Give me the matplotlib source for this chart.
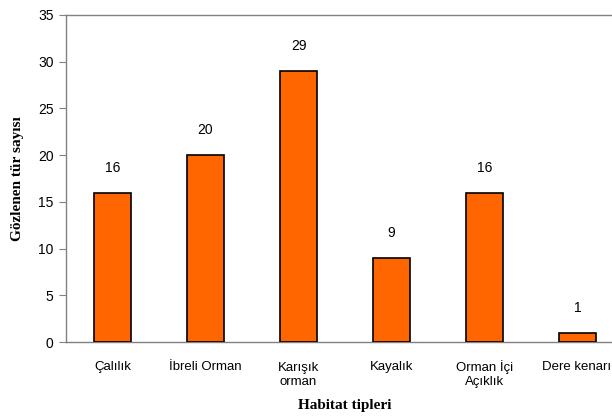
import matplotlib
matplotlib.use("Agg")
import matplotlib.pyplot as plt

categories = ["Çalılık", "İbreli Orman", "Karışık\norman", "Kayalık", "Orman İçi\nAçıklık", "Dere kenarı"]
values = [16, 20, 29, 9, 16, 1]

plt.rcParams['font.family'] = ['Liberation Sans', 'DejaVu Sans']

fig = plt.figure(figsize=(6.12, 4.17), dpi=100)
ax = fig.add_axes([66/612, 1 - 342/417, 558/612, (342 - 15)/417])

x = list(range(len(categories)))
ax.bar(x, values, width=0.4, color="#FF6600", edgecolor="black", linewidth=1.2, zorder=3)
for xi, v in zip(x, values):
    ax.annotate(str(v), (xi, v), xytext=(0, 18), textcoords="offset points",
                ha="center", va="center", fontsize=10)

ax.set_xlim(-0.5, len(categories) - 0.5)
ax.set_ylim(0, 35)
ax.set_yticks(range(0, 36, 5))
ax.set_xticks(x)
ax.set_xticklabels([])
px2pt = 72 / 100
for xi, lab in zip(x, categories):
    n = lab.count("\n")
    off = -(28 + 15 * n) * px2pt
    ax.annotate(lab, (xi, 0), xytext=(-1 if xi == 5 else 0, off), textcoords="offset points",
                ha="center", va="baseline", fontsize=9.5, linespacing=1.22,
                annotation_clip=False)
ax.tick_params(axis='x', length=0)
ax.tick_params(axis='y', length=5, color="#808080", labelsize=10, pad=4)
for s in ax.spines.values():
    s.set_color("#808080")
    s.set_linewidth(1)
ax.spines['right'].set_visible(False)

ax.set_ylabel("Gözlenen tür sayısı", fontfamily="Liberation Serif", fontweight="bold", fontsize=11, labelpad=10)
ax.text(0.5, -(405 - 342) / 327, "Habitat tipleri", transform=ax.transAxes, ha="center", va="center",
        fontfamily="Liberation Serif", fontweight="bold", fontsize=11)

fig.savefig("out.png", dpi=100)
